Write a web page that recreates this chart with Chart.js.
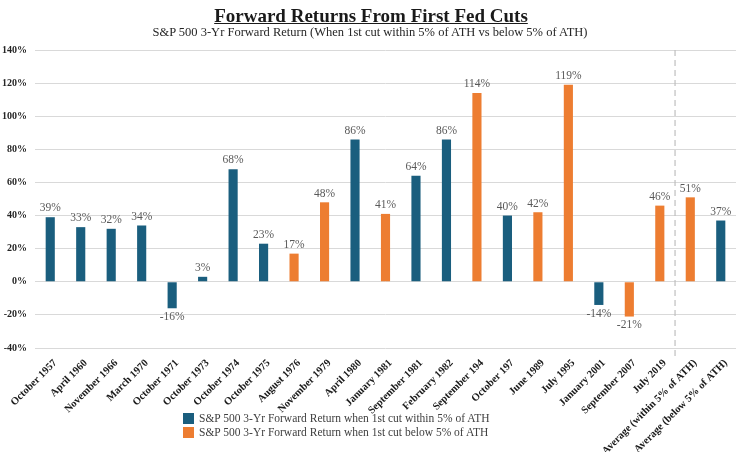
<!DOCTYPE html>
<html>
<head>
<meta charset="utf-8">
<script src="https://cdn.jsdelivr.net/npm/chart.js@4.4.0/dist/chart.umd.min.js"></script>
<style>
  html, body { margin: 0; padding: 0; background: #fff; }
  #wrap { position: relative; width: 742px; height: 452px; overflow: hidden; font-family: 'Liberation Serif', 'DejaVu Serif', serif; }
  #title { position: absolute; top: 5px; left: 0; width: 742px; text-align: center; font-size: 19px; font-weight: bold; text-decoration: underline; color: #1a1a1a; }
  #subtitle { position: absolute; top: 25px; left: 0; width: 740px; text-align: center; font-size: 12.5px; color: #262626; }
  #chartbox { position: absolute; left: 0; top: 0; width: 742px; height: 452px; }
  #legend { position: absolute; left: 183px; top: 411px; font-size: 11.5px; color: #404040; line-height: 14px; }
  .li { display: flex; align-items: center; white-space: nowrap; }
  .sw { width: 11px; height: 11px; margin-right: 5px; display: inline-block; }
</style>
</head>
<body>
<div id="wrap">
  <div id="chartbox"><canvas id="c" width="742" height="452"></canvas></div>
  <div id="title">Forward Returns From First Fed Cuts</div>
  <div id="subtitle">S&amp;P 500 3-Yr Forward Return (When 1st cut within 5% of ATH vs below 5% of ATH)</div>
  <div id="legend"></div>
</div>
<script>
const categories = [
  "October 1957", "April 1960", "November 1966", "March 1970", "October 1971",
  "October 1973", "October 1974", "October 1975", "August 1976", "November 1979",
  "April 1980", "January 1981", "September 1981", "February 1982", "September 194",
  "October 197", "June 1989", "July 1995", "January 2001", "September 2007",
  "July 2019", "Average (within 5% of ATH)", "Average (below 5% of ATH)"
];
const withinATH = [39, 33, 32, 34, -16, 3, 68, 23, null, null, 86, null, 64, 86, null, 40, null, null, -14, null, null, null, 37];
const belowATH  = [null, null, null, null, null, null, null, null, 17, 48, null, 41, null, null, 114, null, 42, 119, null, -21, 46, 51, null];
const seriesNames = [
  "S&P 500 3-Yr Forward Return when 1st cut within 5% of ATH",
  "S&P 500 3-Yr Forward Return when 1st cut below 5% of ATH"
];
const yTicks = [-40, -20, 0, 20, 40, 60, 80, 100, 120, 140];
const BLUE = '#1a5e7e';
const ORANGE = '#ed7d31';

const valueLabels = {
  id: 'valueLabels',
  afterDatasetsDraw(chart) {
    const ctx = chart.ctx;
    ctx.save();
    ctx.font = '11.5px "Liberation Serif", serif';
    ctx.fillStyle = '#595959';
    ctx.textAlign = 'center';
    chart.data.datasets.forEach((ds, di) => {
      const meta = chart.getDatasetMeta(di);
      meta.data.forEach((el, i) => {
        const v = ds.data[i];
        if (v === null || v === undefined) return;
        if (v >= 0) {
          ctx.textBaseline = 'bottom';
          ctx.fillText(v + '%', el.x, el.y - 3);
        } else {
          ctx.textBaseline = 'top';
          ctx.fillText(v + '%', el.x, el.y + 3);
        }
      });
    });
    ctx.restore();
  }
};

const divider = {
  id: 'divider',
  afterDatasetsDraw(chart) {
    const xs = chart.scales.x;
    const ys = chart.scales.y;
    const x = (xs.getPixelForValue(20) + xs.getPixelForValue(21)) / 2;
    const ctx = chart.ctx;
    ctx.save();
    ctx.strokeStyle = '#bfbfbf';
    ctx.lineWidth = 1.2;
    ctx.setLineDash([6, 4]);
    ctx.beginPath();
    ctx.moveTo(x, ys.getPixelForValue(140));
    ctx.lineTo(x, ys.getPixelForValue(-40) + 8);
    ctx.stroke();
    ctx.restore();
  }
};

new Chart(document.getElementById('c'), {
  type: 'bar',
  data: {
    labels: categories,
    datasets: [
      { label: seriesNames[0], data: withinATH, backgroundColor: BLUE, grouped: false, barPercentage: 0.3, categoryPercentage: 1 },
      { label: seriesNames[1], data: belowATH, backgroundColor: ORANGE, grouped: false, barPercentage: 0.3, categoryPercentage: 1 }
    ]
  },
  options: {
    responsive: false,
    animation: false,
    layout: { padding: { top: 50, left: 0, right: 6, bottom: 0 } },
    plugins: {
      legend: { display: false },
      title: { display: false },
      tooltip: { enabled: false }
    },
    scales: {
      x: {
        grid: { display: false },
        border: { display: false },
        afterFit(scale) { scale.height = 104; },
        ticks: {
          minRotation: 45, maxRotation: 45, autoSkip: false,
          color: '#1a1a1a', padding: 1, labelOffset: 5,
          font: { family: '"Liberation Serif", serif', size: 10.5, weight: 'bold' }
        }
      },
      y: {
        min: -40, max: 140,
        afterBuildTicks(scale) { scale.ticks = yTicks.map(v => ({ value: v })); },
        afterFit(scale) { scale.width = 35; },
        grid: { color: '#d9d9d9', drawTicks: false },
        border: { display: false },
        ticks: {
          padding: 8,
          color: '#262626',
          callback: v => v + '%',
          font: { family: '"Liberation Serif", serif', size: 10, weight: 'bold' }
        }
      }
    }
  },
  plugins: [valueLabels, divider]
});

const lg = document.getElementById('legend');
[[BLUE, seriesNames[0]], [ORANGE, seriesNames[1]]].forEach(([c, t]) => {
  const d = document.createElement('div');
  d.className = 'li';
  const s = document.createElement('span');
  s.className = 'sw';
  s.style.background = c;
  d.appendChild(s);
  d.appendChild(document.createTextNode(t));
  lg.appendChild(d);
});
</script>
</body>
</html>
